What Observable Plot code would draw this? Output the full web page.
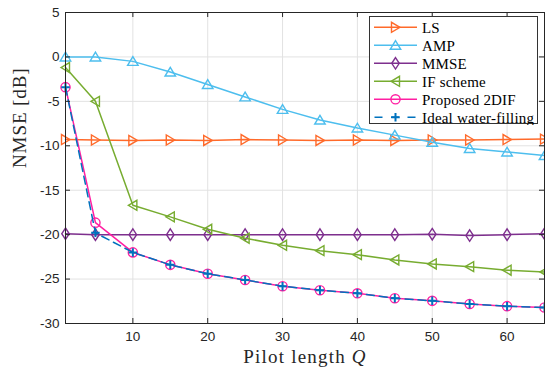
<!DOCTYPE html>
<html><head><meta charset="utf-8">
<script src="https://cdn.jsdelivr.net/npm/d3@7"></script>
<script src="https://cdn.jsdelivr.net/npm/@observablehq/plot@0.6"></script>
<style>
html,body{margin:0;padding:0;background:#fff;}
#chart{position:relative;width:545px;height:370px;overflow:hidden;}
#chart > svg{display:block;}
#legend{position:absolute;left:369px;top:16px;}
</style></head>
<body><div id="chart"></div>
<script>
// ---- data ----
const Q = [1, 5, 10, 15, 20, 25, 30, 35, 40, 45, 50, 55, 60, 65];
const nmseLS    = [-9.3, -9.35, -9.4, -9.35, -9.4, -9.3, -9.35, -9.4, -9.35, -9.4, -9.35, -9.35, -9.3, -9.25];
const nmseAMP   = [0, 0, -0.5, -1.7, -3.1, -4.5, -5.9, -7.1, -8.0, -8.8, -9.6, -10.3, -10.7, -11.1];
const nmseMMSE  = [-19.9, -20, -20, -20, -20, -20, -20, -20, -20, -20, -19.95, -20.1, -20, -19.9];
const nmseIF    = [-1.2, -5.0, -16.7, -18.0, -19.4, -20.4, -21.2, -21.8, -22.25, -22.85, -23.3, -23.6, -24.0, -24.2];
const nmse2DIF  = [-3.4, -18.65, -22.0, -23.4, -24.4, -25.1, -25.8, -26.25, -26.6, -27.15, -27.45, -27.8, -28.05, -28.2];
const nmseIdeal = [-3.4, -19.8, -22.0, -23.4, -24.4, -25.1, -25.8, -26.25, -26.6, -27.15, -27.45, -27.8, -28.05, -28.2];
const seriesNames = ["LS", "AMP", "MMSE", "IF scheme", "Proposed 2DIF", "Ideal water-filling"];
const xTicks = [10, 20, 30, 40, 50, 60];
const yTicks = [-30, -25, -20, -15, -10, -5, 0, 5];
const xLabel = "Pilot length Q";
const yLabel = "NMSE [dB]";

// ---- styles ----
const seriesColors = ["#FF6A2A", "#4DBEEE", "#7E2F8E", "#77AC30", "#FF1FA2", "#0072BD"];
const dashes = [null, null, null, null, null, "8,5"];
const ink = "#262626";

function shape(fn) { return {draw(ctx, size) { fn(ctx, Math.sqrt(size / Math.PI)); }}; }
const symRight = shape((c, r) => { c.moveTo(r * 0.9, 0); c.lineTo(-r * 0.8, -r); c.lineTo(-r * 0.8, r); c.closePath(); });
const symUp = shape((c, r) => { c.moveTo(0, -r * 0.95); c.lineTo(r * 1.05, r * 0.8); c.lineTo(-r * 1.05, r * 0.8); c.closePath(); });
const symLeft = shape((c, r) => { c.moveTo(-r * 0.9, 0); c.lineTo(r * 0.8, -r); c.lineTo(r * 0.8, r); c.closePath(); });
const symDiamond = shape((c, r) => { c.moveTo(0, -r * 1.15); c.lineTo(r * 0.75, 0); c.lineTo(0, r * 1.15); c.lineTo(-r * 0.75, 0); c.closePath(); });
const symCircle = shape((c, r) => { c.moveTo(r * 0.92, 0); c.arc(0, 0, r * 0.92, 0, 2 * Math.PI); c.closePath(); });
const symPlus = shape((c, r) => { c.moveTo(-r * 0.85, 0); c.lineTo(r * 0.85, 0); c.moveTo(0, -r * 0.85); c.lineTo(0, r * 0.85); });
const symbols = [symRight, symUp, symDiamond, symLeft, symCircle, symPlus];

const allSeries = [nmseLS, nmseAMP, nmseMMSE, nmseIF, nmse2DIF, nmseIdeal];
const tables = allSeries.map((vals, i) => Q.map((q, j) => ({Q: q, nmse: vals[j], series: seriesNames[i]})));

const W = 545, H = 370, mL = 65, mR = 1, mT = 12, mB = 47;
const innerW = W - mL - mR, innerH = H - mT - mB;
const tickLen = 5;

const marks = [
  Plot.gridX(xTicks, {stroke: "#e2e2e2", strokeOpacity: 1, strokeWidth: 1}),
  Plot.gridY(yTicks, {stroke: "#e2e2e2", strokeOpacity: 1, strokeWidth: 1})
];
tables.forEach((t, i) => {
  const lineOpts = {x: "Q", y: "nmse", stroke: seriesColors[i], strokeWidth: 1.5};
  if (dashes[i]) lineOpts.strokeDasharray = dashes[i];
  marks.push(Plot.line(t, lineOpts));
  marks.push(Plot.dot(t, {x: "Q", y: "nmse", symbol: symbols[i], r: 5, stroke: seriesColors[i], fill: "none", strokeWidth: i === 5 ? 2 : 1.4}));
});
marks.push(
  Plot.tickX(xTicks, {x: d => d, stroke: ink, insetTop: innerH - tickLen}),
  Plot.tickX(xTicks, {x: d => d, stroke: ink, insetBottom: innerH - tickLen}),
  Plot.tickY(yTicks, {y: d => d, stroke: ink, insetRight: innerW - tickLen}),
  Plot.tickY(yTicks, {y: d => d, stroke: ink, insetLeft: innerW - tickLen}),
  Plot.frame({stroke: ink, strokeWidth: 1}),
  Plot.text([yLabel], {frameAnchor: "left", text: d => d, rotate: -90, dx: -46, fontFamily: "Liberation Serif", fontSize: 19, fill: ink}),
  Plot.text([xLabel], {frameAnchor: "bottom", text: d => d, dy: 39, fontFamily: "Liberation Serif", fontSize: 19, fill: ink})
);

const plot = Plot.plot({
  width: W, height: H,
  marginLeft: mL, marginRight: mR, marginTop: mT, marginBottom: mB,
  style: {fontFamily: "Liberation Sans", fontSize: "13.5px", color: ink, background: "#fff"},
  x: {domain: [1, 65], ticks: xTicks, tickSize: 0, tickPadding: 8, tickFormat: d => String(d), label: null},
  y: {domain: [-30, 5], ticks: yTicks, tickSize: 0, tickPadding: 6, tickFormat: d => String(d), label: null},
  marks
});
document.getElementById("chart").appendChild(plot);

// letter spacing / italic Q on axis titles (approximate LaTeX look)
plot.querySelectorAll("text, tspan").forEach(t => {
  if (t.children.length) return;
  if (t.textContent === xLabel) {
    t.setAttribute("letter-spacing", "1.2");
    t.textContent = xLabel.slice(0, -1);
    const ts = document.createElementNS("http://www.w3.org/2000/svg", "tspan");
    ts.setAttribute("font-style", "italic");
    ts.textContent = "Q";
    t.appendChild(ts);
  } else if (t.textContent === yLabel) {
    t.setAttribute("letter-spacing", "0.9");
  }
});

// ---- legend (inside the axes, top right) ----
const leg = d3.select("#chart").append("svg").attr("id", "legend").attr("width", 170).attr("height", 109);
leg.append("rect").attr("x", 0.5).attr("y", 0.5).attr("width", 168).attr("height", 107)
  .attr("fill", "#fff").attr("stroke", "#333").attr("stroke-width", 1);
seriesNames.forEach((name, i) => {
  const cy = 11.3 + i * 18;
  const g = leg.append("g");
  const ln = g.append("line").attr("x1", 5).attr("x2", 48).attr("y1", cy).attr("y2", cy)
    .attr("stroke", seriesColors[i]).attr("stroke-width", 1.5);
  if (dashes[i]) ln.attr("stroke-dasharray", "8,8.5").attr("stroke-dashoffset", -0.5);
  g.append("path").attr("d", d3.symbol(symbols[i], 25 * Math.PI)()).attr("transform", `translate(26.5,${cy})`)
    .attr("fill", "none").attr("stroke", seriesColors[i]).attr("stroke-width", i === 5 ? 2 : 1.4);
  g.append("text").attr("x", 53).attr("y", cy).attr("dy", "0.35em")
    .attr("font-family", "Liberation Serif").attr("font-size", 15).attr("letter-spacing", "0.2")
    .attr("fill", "#000").text(name);
});
</script>
</body></html>
